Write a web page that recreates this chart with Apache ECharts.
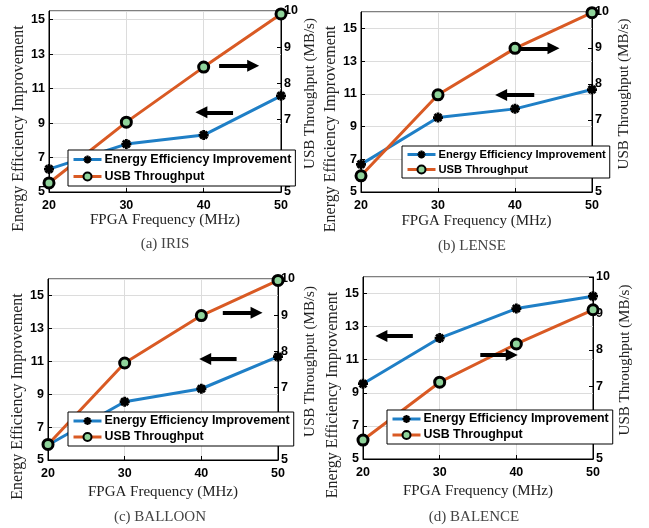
<!DOCTYPE html>
<html>
<head>
<meta charset="utf-8">
<script src="https://cdn.jsdelivr.net/npm/echarts@6/dist/echarts.min.js"></script>
<style>
html,body{margin:0;padding:0;background:#fff;}
#chart{width:649px;height:528px;}
</style>
</head>
<body>
<div id="chart"></div>
<script>
// ---------- data ----------
const freq = [20, 30, 40, 50];
const panelNames = ['(a) IRIS', '(b) LENSE', '(c) BALLOON', '(d) BALENCE'];
const seriesNames = ['Energy Efficiency Improvement', 'USB Throughput'];
const leftTicks = [5, 7, 9, 11, 13, 15];
const rightTicks = [5, 6, 7, 8, 9, 10];
const xTicks = [20, 30, 40, 50];

const eeiIRIS = [6.33, 7.78, 8.30, 10.58];
const usbIRIS = [5.25, 6.93, 8.45, 9.92];
const eeiLENSE = [6.69, 9.55, 10.08, 11.26];
const usbLENSE = [5.45, 7.70, 8.99, 9.98];
const eeiBALLOON = [5.91, 8.54, 9.33, 11.28];
const usbBALLOON = [5.43, 7.68, 8.99, 9.96];
const eeiBALENCE = [9.55, 12.31, 14.09, 14.84];
const usbBALENCE = [5.52, 7.11, 8.16, 9.10];

// annotation arrows (data coordinates on left axis): [from, to]
const arrowsIRIS = [[[42.0, 12.33], [46.4, 12.33]], [[43.8, 9.62], [39.7, 9.62]]];
const arrowsLENSE = [[[40.5, 13.78], [45.0, 13.78]], [[42.5, 10.93], [38.2, 10.93]]];
const arrowsBALLOON = [[[42.8, 13.95], [47.2, 13.95]], [[44.6, 11.14], [40.5, 11.14]]];
const arrowsBALENCE = [[[26.5, 12.43], [22.4, 12.43]], [[35.3, 11.28], [39.4, 11.28]]];

const eeiAll = [eeiIRIS, eeiLENSE, eeiBALLOON, eeiBALENCE];
const usbAll = [usbIRIS, usbLENSE, usbBALLOON, usbBALENCE];
const arrowsAll = [arrowsIRIS, arrowsLENSE, arrowsBALLOON, arrowsBALENCE];

// ---------- layout ----------
const grids = [
  {left: 49, top: 11, width: 232, height: 181},
  {left: 361, top: 12, width: 231, height: 180},
  {left: 48, top: 279, width: 230, height: 181},
  {left: 363, top: 277, width: 230, height: 182}
];
const leftMax = [15.5, 16, 16, 16];
const legendPos = [
  {left: 68, top: 150, fontSize: 12.5},
  {left: 402, top: 146, fontSize: 11.2},
  {left: 68, top: 412, fontSize: 12.4},
  {left: 387, top: 410, fontSize: 12.4}
];
const captionPos = [[165, 244], [472, 246], [160, 517], [474, 517]];
const xNameGap = [21, 22, 25, 25];
const leftNameGap = [20, 18, 20, 21];
const rightNameGap = [22, 25, 25, 25];

const BLUE = '#1f7fc6';
const ORANGE = '#d95a24';
const SERIF = '"Liberation Serif", "DejaVu Serif", serif';
const SANS = '"Liberation Sans", Arial, sans-serif';
const STAR = 'path://M-1.4,-5L1.4,-5L1.4,-1.4L5,-1.4L5,1.4L1.4,1.4L1.4,5L-1.4,5L-1.4,1.4L-5,1.4L-5,-1.4L-1.4,-1.4Z' +
  'M-4.5,-2.5L-2.5,-4.5L4.5,2.5L2.5,4.5Z' +
  'M2.5,-4.5L4.5,-2.5L-2.5,4.5L-4.5,2.5Z';

const tickLabel = {fontFamily: SANS, fontWeight: 'bold', fontSize: 12.5, color: '#000'};

const option = {
  animation: false,
  backgroundColor: '#fff',
  grid: [], xAxis: [], yAxis: [], series: [], legend: [], graphic: []
};

for (let i = 0; i < 4; i++) {
  option.grid.push(Object.assign({
    show: true, borderColor: '#000', borderWidth: 1, backgroundColor: '#fff', containLabel: false
  }, grids[i]));

  option.xAxis.push({
    type: 'value', gridIndex: i, min: xTicks[0], max: xTicks[xTicks.length - 1], interval: 10,
    name: 'FPGA Frequency (MHz)', nameLocation: 'middle', nameGap: xNameGap[i],
    nameTextStyle: {fontFamily: SERIF, fontSize: 15, color: '#222'},
    axisLine: {show: true, lineStyle: {color: '#000', width: 1}},
    axisTick: {show: true, inside: true, length: 4, lineStyle: {color: '#000'}},
    axisLabel: Object.assign({margin: 7}, tickLabel),
    splitLine: {show: true, lineStyle: {color: '#dcdcdc', width: 1}}
  });

  option.yAxis.push({
    type: 'value', gridIndex: i, min: leftTicks[0], max: leftMax[i], interval: 2,
    position: 'left',
    name: 'Energy Efficiency Improvement', nameLocation: 'middle', nameGap: leftNameGap[i], nameRotate: 90,
    nameTextStyle: {fontFamily: SERIF, fontSize: 16, color: '#222', padding: [0, 54, 0, 0]},
    axisLine: {show: true, lineStyle: {color: '#000', width: 1}},
    axisTick: {show: true, inside: true, length: 4, lineStyle: {color: '#000'}},
    axisLabel: Object.assign({margin: 4, showMaxLabel: false,
      formatter: v => (leftTicks.indexOf(v) >= 0 ? String(v) : '')}, tickLabel),
    splitLine: {show: true, lineStyle: {color: '#dcdcdc', width: 1}}
  });
  option.yAxis.push({
    type: 'value', gridIndex: i, min: rightTicks[0], max: rightTicks[rightTicks.length - 1], interval: 1,
    position: 'right',
    name: 'USB Throughput (MB/s)', nameLocation: 'middle', nameGap: rightNameGap[i], nameRotate: 90,
    nameTextStyle: {fontFamily: SERIF, fontSize: 15, color: '#222', padding: [0, 0, 0, 16]},
    axisLine: {show: true, lineStyle: {color: '#000', width: 1}},
    axisTick: {show: true, inside: true, length: 4, lineStyle: {color: '#000'}},
    axisLabel: Object.assign({margin: 3}, tickLabel),
    splitLine: {show: false}
  });

  const arrows = arrowsAll[i].map(a => [{coord: a[0]}, {coord: a[1]}]);

  option.series.push({
    type: 'line', name: seriesNames[0], xAxisIndex: i, yAxisIndex: 2 * i,
    data: freq.map((f, k) => [f, eeiAll[i][k]]),
    lineStyle: {color: BLUE, width: 3},
    symbol: STAR, symbolSize: 10, showSymbol: true,
    itemStyle: {color: '#000'},
    z: 3,
    markLine: {
      silent: true, animation: false,
      symbol: ['none', 'triangle'], symbolSize: 12,
      label: {show: false},
      lineStyle: {color: '#000', width: 4, type: 'solid'},
      emphasis: {disabled: true},
      data: arrows
    }
  });
  option.series.push({
    type: 'line', name: seriesNames[1], xAxisIndex: i, yAxisIndex: 2 * i + 1,
    data: freq.map((f, k) => [f, usbAll[i][k]]),
    lineStyle: {color: ORANGE, width: 3},
    symbol: 'circle', symbolSize: 10, showSymbol: true,
    itemStyle: {color: '#8fd39a', borderColor: '#000', borderWidth: 3},
    z: 4
  });

  option.legend.push({
    left: legendPos[i].left, top: legendPos[i].top, orient: 'vertical',
    data: seriesNames,
    backgroundColor: '#fff', borderColor: '#000', borderWidth: 1,
    padding: [3, 4, 3, 4], itemGap: 4, itemWidth: 28, itemHeight: 10,
    lineStyle: {width: 3},
    textStyle: {fontFamily: SANS, fontWeight: 'bold', fontSize: legendPos[i].fontSize, color: '#000', padding: [0, 0, 0, -2]},
    selectedMode: false, z: 10
  });

  option.graphic.push({
    type: 'text', x: captionPos[i][0], y: captionPos[i][1], z: 10,
    style: {text: panelNames[i], fontFamily: SERIF, fontSize: 15, fill: '#444',
      align: 'center', verticalAlign: 'middle'}
  });
}

const chart = echarts.init(document.getElementById('chart'), null, {renderer: 'canvas'});
chart.setOption(option);
</script>
</body>
</html>
